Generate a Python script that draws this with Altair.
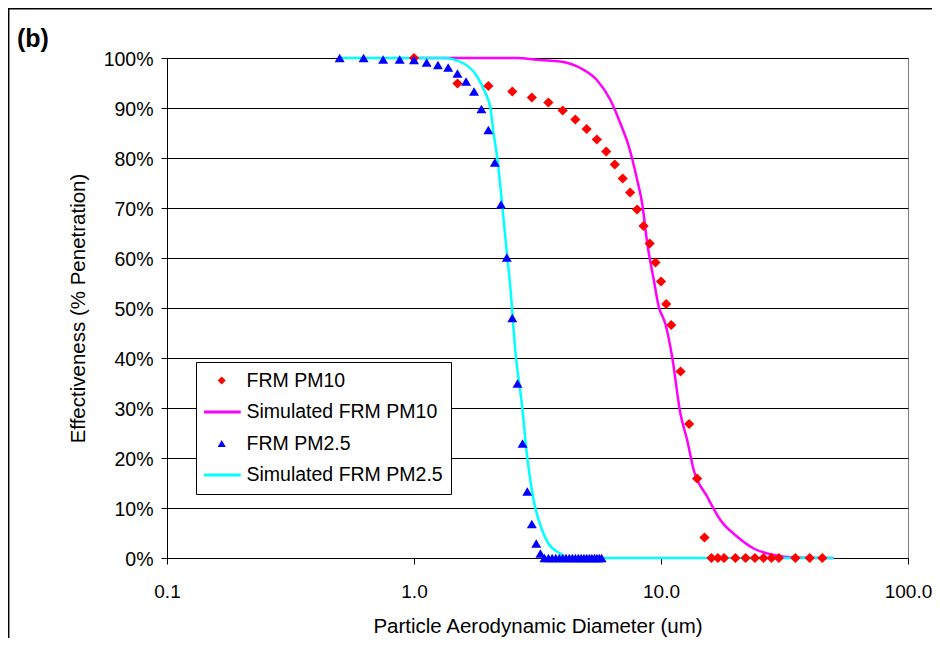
import altair as alt
import pandas as pd

# ---------------- data ----------------
series_names = ["FRM PM10", "Simulated FRM PM10", "FRM PM2.5", "Simulated FRM PM2.5"]
series_fill = ["#FF0000", "#FF00FF", "#0000FF", "#00FFFF"]
series_stroke = ["rgba(0,0,0,0)", "#FF00FF", "rgba(0,0,0,0)", "#00FFFF"]
series_shapes = ["diamond", "M-4.75,0L4.75,0", "triangle-up", "M-4.75,0L4.75,0"]

pm10_d = [1.0, 1.5, 2.0, 2.5, 3.0, 3.5, 4.0, 4.5, 5.0, 5.5, 6.0, 6.5, 7.0, 7.5,
          8.0, 8.5, 9.0, 9.5, 10.0, 10.5, 11.0, 12.0, 13.0, 14.0, 15.0,
          16.0, 17.0, 18.0, 20.0, 22.0, 24.0, 26.0, 28.0, 30.0, 35.0, 40.0, 45.0]
pm10_p = [100, 94.9, 94.4, 93.3, 92.1, 91.1, 89.5, 87.7, 85.8, 83.7, 81.3, 78.7, 75.9, 73.1,
          69.7, 66.4, 62.9, 59.1, 55.3, 50.8, 46.6, 37.3, 26.8, 15.9, 4.1,
          0, 0, 0, 0, 0, 0, 0, 0, 0, 0, 0, 0]

sim10_d = [1.0, 2.61, 3.25, 3.91, 4.72, 5.5, 6.24, 6.85, 7.41, 8.01, 8.39, 8.8, 9.35,
           9.79, 10.42, 11.09, 11.98, 12.76, 13.57, 15.37, 17.39, 20.31, 23.72, 28.6, 35.5, 50.0]
sim10_p = [100, 100, 99.6, 99.3, 98.0, 95.6, 91.6, 86.9, 82.3, 75.6, 70.9, 62.9, 55.6,
           50.3, 46.8, 40.3, 28.9, 23.6, 17.6, 12.3, 7.6, 4.3, 1.9, 0.6, 0.1, 0]

pm25_d = [0.5, 0.625, 0.75, 0.875, 1.0, 1.125, 1.25, 1.375, 1.5, 1.625, 1.75, 1.875,
          2.0, 2.125, 2.25, 2.375, 2.5, 2.625, 2.75, 2.875, 3.0, 3.125, 3.25,
          3.375, 3.5, 3.625, 3.75, 3.875, 4.0, 4.125, 4.25, 4.375, 4.5, 4.625, 4.75,
          4.875, 5.0, 5.125, 5.25, 5.375, 5.5, 5.625, 5.75]
pm25_p = [100, 100, 99.7, 99.7, 99.6, 99.1, 98.6, 98.1, 96.9, 95.3, 93.3, 89.8,
          85.6, 79.1, 70.7, 60.1, 48.0, 34.9, 22.9, 13.3, 6.8, 2.9, 0.9,
          0, 0, 0, 0, 0, 0, 0, 0, 0, 0, 0, 0,
          0, 0, 0, 0, 0, 0, 0, 0]

sim25_d = [0.5, 1.31, 1.59, 1.8, 1.95, 2.04, 2.1, 2.17, 2.24, 2.37, 2.46, 2.57,
           2.74, 2.87, 3.05, 3.3, 3.5, 3.91, 4.17, 50.0]
sim25_p = [100, 100, 98.9, 96.3, 92.9, 89.9, 84.9, 80.3, 74.0, 61.6, 53.6, 41.6,
           30.3, 20.3, 11.6, 5.6, 2.9, 0.9, 0, 0]

x_ticks = [0.1, 1, 10, 100]
y_ticks = [0, 10, 20, 30, 40, 50, 60, 70, 80, 90, 100]


def table(d, p, name):
    return pd.DataFrame({"d": d, "p": p, "series": [name] * len(d)})


pm10 = table(pm10_d, pm10_p, series_names[0])
sim10 = table(sim10_d, sim10_p, series_names[1])
pm25 = table(pm25_d, pm25_p, series_names[2])
sim25 = table(sim25_d, sim25_p, series_names[3])

FONT = "Liberation Sans"

X = alt.X(
    "d:Q",
    scale=alt.Scale(type="log", domain=[0.1, 100], nice=False),
    axis=alt.Axis(
        values=x_ticks, format=".1f", grid=False, tickSize=6, tickColor="black",
        domainColor="black", labelFontSize=19, labelColor="black", labelPadding=18,
        labelFlush=False, labelOverlap=False,
        titleFontSize=20.5, titleFontWeight="normal", titleColor="black",
        titleY=68, titleBaseline="middle",
    ),
    title="Particle Aerodynamic Diameter (um)",
)
Y = alt.Y(
    "p:Q",
    scale=alt.Scale(domain=[0, 100], nice=False),
    axis=alt.Axis(
        values=y_ticks, labelExpr="datum.value + '%'", grid=True, gridColor="black",
        gridWidth=1, gridOpacity=1, tickSize=6, tickColor="black", domainColor="black",
        labelFontSize=19.5, labelColor="black", labelPadding=8, labelOffset=1,
        labelFlush=False,
        titleFontSize=20.5, titleFontWeight="normal", titleColor="black",
        titleX=-89, titleY=250, titleBaseline="middle",
    ),
    title="Effectiveness (% Penetration)",
)

legend = alt.Legend(
    title=None, orient="none", legendX=29, legendY=304,
    strokeColor="black", fillColor="white", padding=8,
    labelFontSize=19.5, labelColor="black", labelOffset=15, labelLimit=400,
    symbolSize=64, symbolStrokeWidth=3, symbolOffset=8,
    clipHeight=21, rowPadding=10.5,
)

fill_enc = alt.Fill("series:N", scale=alt.Scale(domain=series_names, range=series_fill),
                    legend=legend, title=None)
stroke_enc = alt.Stroke("series:N", scale=alt.Scale(domain=series_names, range=series_stroke),
                        legend=legend, title=None)
shape_enc = alt.Shape("series:N", scale=alt.Scale(domain=series_names, range=series_shapes),
                      legend=legend, title=None)

line10 = alt.Chart(sim10).mark_line(strokeWidth=2.5, interpolate="monotone").encode(
    x=X, y=Y, stroke=stroke_enc)
line25 = alt.Chart(sim25).mark_line(strokeWidth=2.5, interpolate="monotone").encode(
    x=X, y=Y, stroke=stroke_enc)

pts10 = alt.Chart(pm10).mark_point(filled=True, opacity=1, size=105, strokeWidth=0).encode(
    x=X, y=Y, fill=fill_enc, stroke=stroke_enc, shape=shape_enc)
pts25 = alt.Chart(pm25).mark_point(filled=True, opacity=1, size=100, strokeWidth=0).encode(
    x=X, y=Y, fill=fill_enc, stroke=stroke_enc, shape=shape_enc)

one = pd.DataFrame({"k": [0]})
top_edge = alt.Chart(one).mark_rule(stroke="black", strokeWidth=1.5).encode(
    x=alt.value(-159), x2=alt.value(780), y=alt.value(-49.3))
left_edge = alt.Chart(one).mark_rule(stroke="black", strokeWidth=1.5).encode(
    x=alt.value(-158.3), y=alt.value(-50), y2=alt.value(600))
label_b = alt.Chart(one).mark_text(
    text="(b)", align="left", baseline="alphabetic", fontSize=25, fontWeight="bold",
    font=FONT, color="black").encode(x=alt.value(-150), y=alt.value(-11))

chart = alt.layer(top_edge, left_edge, label_b, line10, line25, pts10, pts25).properties(
    width=741, height=500,
    autosize=alt.AutoSizeParams(type="none"),
    padding={"left": 159, "top": 50, "right": 24, "bottom": 80},
).configure(font=FONT).configure_view(stroke="#808080", strokeWidth=1)

chart.save("out.html", embed_options={"renderer": "svg", "actions": False})
